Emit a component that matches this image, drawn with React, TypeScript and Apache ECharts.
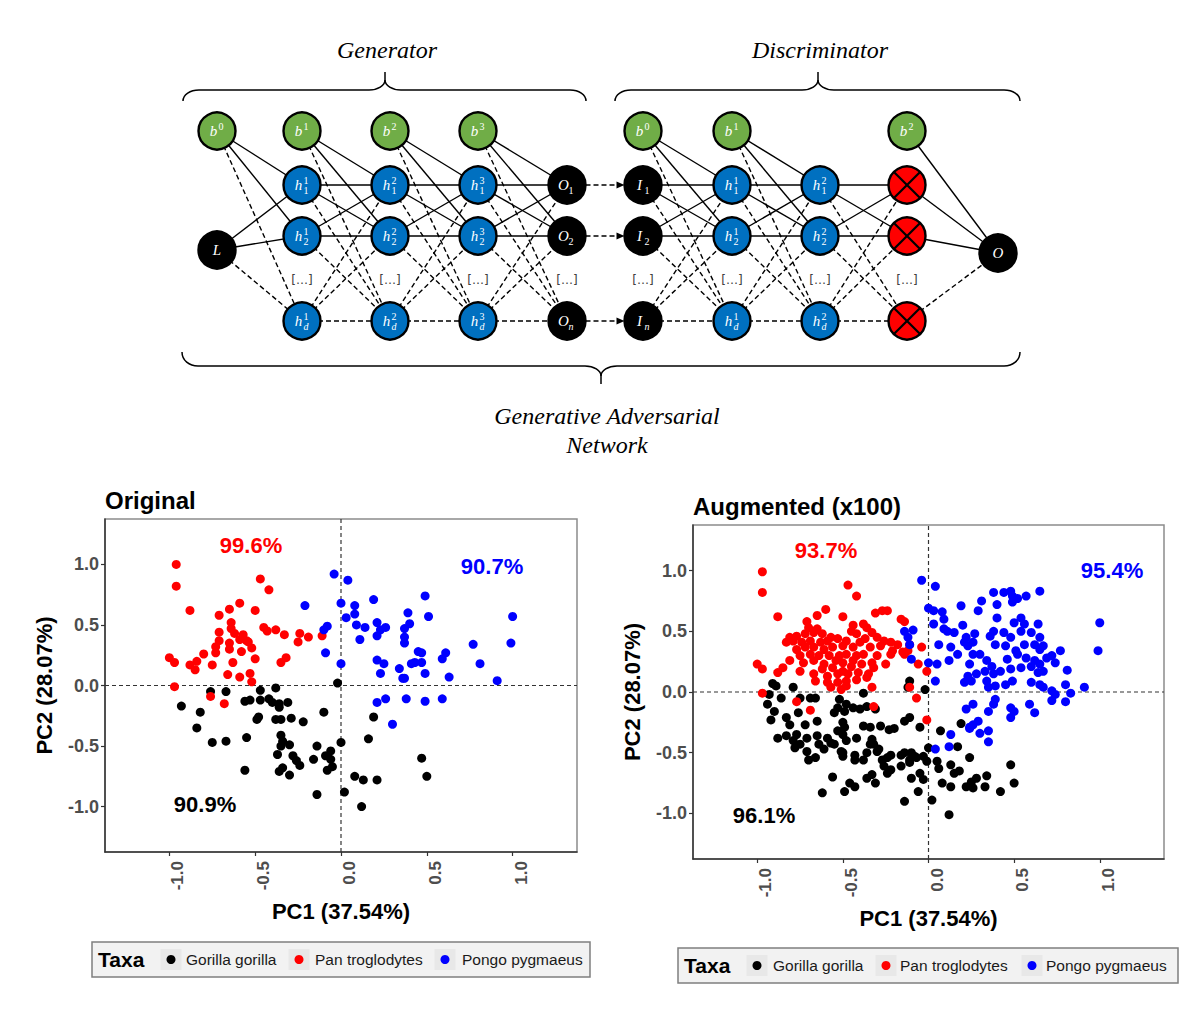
import React, { useEffect, useRef } from 'react';
import * as echarts from 'echarts';

const TAXA = ['Gorilla gorilla', 'Pan troglodytes', 'Pongo pygmaeus'];
const TAXA_COLORS = ['#000000', '#ff0000', '#0000ff'];
const AXIS_TICKS = [-1, -0.5, 0, 0.5, 1];
const AXIS_LIMIT = 1.375;
const X_TITLE = 'PC1 (37.54%)';
const Y_TITLE = 'PC2 (28.07%)';
const PANEL_TITLES = ['Original', 'Augmented (x100)'];
const ORIG_ACC = ['90.9%', '99.6%', '90.7%'];
const AUG_ACC = ['96.1%', '93.7%', '95.4%'];

const origGorilla = [
  [-0.02, 0.02], [-0.76, -0.05], [-0.67, -0.05], [-0.47, -0.04], [-0.38, -0.02], [-0.93, -0.17], [-0.82, -0.22],
  [-0.84, -0.35], [-0.56, -0.13], [-0.53, -0.12], [-0.47, -0.12], [-0.42, -0.11], [-0.40, -0.14], [-0.36, -0.15],
  [-0.31, -0.14], [-0.36, -0.18], [-0.49, -0.28], [-0.48, -0.26], [-0.38, -0.28], [-0.35, -0.28], [-0.29, -0.27],
  [-0.22, -0.30], [-0.10, -0.22], [0.19, -0.26], [-0.75, -0.47], [-0.67, -0.46], [-0.55, -0.43], [-0.35, -0.41],
  [-0.34, -0.46], [-0.35, -0.50], [-0.30, -0.49], [-0.14, -0.50], [0.00, -0.47], [0.16, -0.44], [-0.37, -0.57],
  [-0.28, -0.58], [-0.26, -0.62], [-0.24, -0.66], [-0.16, -0.61], [-0.09, -0.58], [-0.06, -0.54], [-0.06, -0.61],
  [-0.05, -0.67], [-0.08, -0.70], [-0.56, -0.70], [-0.36, -0.71], [-0.30, -0.74], [-0.34, -0.68], [0.08, -0.75],
  [0.13, -0.78], [0.21, -0.78], [0.47, -0.60], [0.50, -0.75], [-0.14, -0.90], [0.02, -0.88], [0.12, -1.00],
];
const origPan = [
  [-0.96, 1.00], [-0.96, 0.82], [-0.47, 0.88], [-0.42, 0.79], [-0.88, 0.62], [-0.59, 0.68], [-0.65, 0.63],
  [-0.71, 0.58], [-0.50, 0.62], [-0.64, 0.52], [-0.64, 0.47], [-0.71, 0.44], [-0.62, 0.43], [-0.57, 0.42],
  [-0.71, 0.37], [-0.59, 0.38], [-0.55, 0.37], [-0.65, 0.35], [-0.54, 0.36], [-0.73, 0.32], [-0.52, 0.31],
  [-0.65, 0.30], [-0.45, 0.48], [-0.43, 0.45], [-0.38, 0.46], [-0.33, 0.42], [-0.24, 0.43], [-0.19, 0.40],
  [-0.25, 0.36], [-0.11, 0.41], [-0.80, 0.26], [-0.73, 0.27], [-0.58, 0.28], [-1.00, 0.23], [-0.97, 0.19],
  [-0.84, 0.20], [-0.88, 0.17], [-0.85, 0.13], [-0.75, 0.17], [-0.63, 0.19], [-0.50, 0.22], [-0.35, 0.19],
  [-0.32, 0.23], [-0.66, 0.09], [-0.59, 0.07], [-0.53, 0.10], [-0.52, 0.03], [-0.97, -0.01], [-0.76, -0.09],
  [-0.68, -0.15],
];
const origPongo = [
  [-0.04, 0.92], [0.04, 0.87], [-0.21, 0.66], [0.00, 0.68], [0.08, 0.66], [0.19, 0.71], [0.49, 0.74], [0.08, 0.59],
  [0.03, 0.56], [0.39, 0.60], [0.51, 0.57], [1.00, 0.57], [-0.08, 0.49], [-0.10, 0.46], [0.09, 0.50], [0.14, 0.48],
  [0.21, 0.52], [0.26, 0.48], [0.23, 0.46], [0.21, 0.41], [0.37, 0.47], [0.40, 0.51], [0.11, 0.38], [0.37, 0.40],
  [0.37, 0.35], [-0.09, 0.27], [0.00, 0.18], [0.21, 0.21], [0.25, 0.18], [0.45, 0.28], [0.47, 0.27], [0.61, 0.27],
  [0.59, 0.22], [0.77, 0.34], [0.99, 0.35], [0.41, 0.18], [0.43, 0.19], [0.47, 0.19], [0.23, 0.10], [0.34, 0.14],
  [0.49, 0.10], [0.36, 0.06], [0.37, 0.06], [0.63, 0.07], [0.81, 0.18], [0.91, 0.04], [0.21, -0.14], [0.26, -0.11],
  [0.38, -0.11], [0.49, -0.13], [0.59, -0.11], [0.30, -0.32],
];

const augGorilla = [
  [-0.91, 0.07], [-0.89, 0.05], [-0.79, 0.04], [-0.93, -0.02], [-0.86, -0.05], [-0.94, -0.10], [-0.90, -0.16],
  [-0.92, -0.23], [-0.83, -0.21], [-0.81, -0.27], [-0.75, -0.05], [-0.69, -0.05], [-0.66, -0.05], [-0.76, -0.17],
  [-0.72, -0.27], [-0.38, -0.01], [-0.11, 0.09], [-0.12, 0.04], [-0.02, 0.02], [-0.52, -0.06], [-0.48, -0.10],
  [-0.53, -0.13], [-0.49, -0.16], [-0.44, -0.13], [-0.40, -0.14], [-0.36, -0.12], [-0.31, -0.14], [-0.55, -0.17],
  [-0.14, -0.24], [-0.11, -0.21], [-0.05, -0.29], [-0.20, -0.30], [-0.23, -0.31], [-0.28, -0.28], [-0.38, -0.28],
  [-0.34, -0.29], [0.19, -0.26], [-0.65, -0.24], [-0.50, -0.25], [-0.49, -0.29], [-0.88, -0.38], [-0.83, -0.36],
  [-0.77, -0.35], [-0.71, -0.38], [-0.65, -0.36], [-0.59, -0.38], [-0.53, -0.32], [-0.50, -0.35], [-0.48, -0.40],
  [-0.42, -0.38], [-0.33, -0.39], [-0.32, -0.43], [0.07, -0.32], [-0.57, -0.42], [-0.79, -0.40], [-0.75, -0.43],
  [-0.78, -0.46], [-0.71, -0.49], [-0.64, -0.43], [-0.61, -0.47], [-0.51, -0.49], [-0.50, -0.53], [-0.43, -0.52],
  [-0.36, -0.50], [-0.29, -0.47], [-0.22, -0.52], [-0.14, -0.50], [-0.10, -0.50], [-0.07, -0.54], [0.00, -0.46],
  [0.17, -0.45], [-0.70, -0.56], [-0.66, -0.54], [-0.55, -0.43], [-0.50, -0.50], [-0.43, -0.56], [-0.38, -0.56],
  [-0.34, -0.43], [-0.30, -0.49], [-0.27, -0.56], [-0.24, -0.54], [-0.26, -0.61], [-0.22, -0.64], [-0.24, -0.67],
  [-0.16, -0.52], [-0.11, -0.56], [-0.08, -0.53], [-0.03, -0.53], [-0.01, -0.57], [0.05, -0.57], [0.06, -0.63],
  [0.13, -0.60], [0.24, -0.54], [0.18, -0.65], [0.15, -0.67], [-0.16, -0.61], [-0.11, -0.58], [-0.05, -0.67],
  [-0.10, -0.71], [-0.03, -0.72], [-0.06, -0.82], [-0.14, -0.90], [0.02, -0.89], [0.12, -1.01], [-0.36, -0.71],
  [-0.33, -0.68], [-0.31, -0.75], [-0.46, -0.75], [-0.43, -0.78], [-0.49, -0.82], [-0.56, -0.70], [-0.62, -0.83],
  [0.08, -0.75], [0.13, -0.78], [0.22, -0.78], [0.26, -0.79], [0.28, -0.71], [0.34, -0.69], [0.33, -0.78],
  [0.42, -0.82], [0.48, -0.60], [0.50, -0.75], [0.25, -0.74],
];
const augPan = [
  [-0.97, 0.99], [-0.97, 0.82], [-0.47, 0.88], [-0.42, 0.79], [-0.88, 0.62], [-0.60, 0.68], [-0.65, 0.63],
  [-0.50, 0.62], [-0.71, 0.58], [-0.24, 0.67], [-0.27, 0.67], [-0.31, 0.65], [-0.16, 0.60], [-0.14, 0.58],
  [-1.00, 0.23], [-0.97, 0.19], [-0.88, 0.16], [-0.85, 0.20], [-0.75, 0.17], [-0.97, -0.01], [-0.77, -0.08],
  [-0.69, -0.15], [-0.32, -0.12], [-0.33, 0.04], [-0.11, 0.04], [-0.07, -0.05], [-0.06, 0.23], [-0.01, 0.17],
  [-0.01, -0.23], [-0.04, 0.37], [-0.11, 0.39], [-0.70, 0.53], [-0.65, 0.52], [-0.44, 0.55], [-0.38, 0.56],
  [-0.36, 0.53], [-0.81, 0.45], [-0.77, 0.46], [-0.72, 0.48], [-0.67, 0.49], [-0.62, 0.48], [-0.57, 0.45],
  [-0.45, 0.50], [-0.42, 0.48], [-0.33, 0.49], [-0.30, 0.45], [-0.83, 0.41], [-0.79, 0.42], [-0.74, 0.41],
  [-0.69, 0.42], [-0.63, 0.41], [-0.59, 0.42], [-0.53, 0.44], [-0.48, 0.42], [-0.40, 0.41], [-0.37, 0.44],
  [-0.26, 0.42], [-0.22, 0.41], [-0.18, 0.39], [-0.77, 0.35], [-0.72, 0.37], [-0.67, 0.37], [-0.61, 0.35],
  [-0.56, 0.37], [-0.50, 0.38], [-0.44, 0.37], [-0.34, 0.37], [-0.28, 0.38], [-0.21, 0.34], [-0.15, 0.33],
  [-0.12, 0.34], [-0.75, 0.30], [-0.69, 0.31], [-0.64, 0.30], [-0.58, 0.30], [-0.52, 0.30], [-0.48, 0.31],
  [-0.42, 0.30], [-0.38, 0.31], [-0.30, 0.30], [-0.22, 0.31], [-0.14, 0.31], [-0.81, 0.26], [-0.73, 0.24],
  [-0.67, 0.26], [-0.61, 0.23], [-0.54, 0.26], [-0.50, 0.24], [-0.44, 0.26], [-0.33, 0.24], [-0.25, 0.23],
  [-0.62, 0.19], [-0.56, 0.20], [-0.50, 0.17], [-0.45, 0.21], [-0.39, 0.23], [-0.32, 0.20], [-0.67, 0.15],
  [-0.59, 0.13], [-0.53, 0.15], [-0.47, 0.15], [-0.41, 0.16], [-0.35, 0.15], [-0.66, 0.09], [-0.59, 0.08],
  [-0.53, 0.08], [-0.48, 0.09], [-0.42, 0.10], [-0.36, 0.12], [-0.57, 0.04], [-0.51, 0.02], [-0.48, 0.05],
];
const augPongo = [
  [-0.04, 0.92], [0.04, 0.87], [0.65, 0.83], [1.00, 0.57], [0.99, 0.34], [0.91, 0.04], [0.35, -0.41], [0.12, -0.45],
  [0.04, -0.47], [0.13, -0.35], [0.24, -0.30], [0.29, -0.24], [0.35, -0.32], [0.19, 0.71], [0.29, 0.67], [0.31, 0.75],
  [0.38, 0.82], [0.44, 0.82], [0.48, 0.83], [0.49, 0.79], [0.52, 0.77], [0.57, 0.79], [0.40, 0.72], [0.49, 0.74],
  [0.00, 0.69], [0.03, 0.67], [0.08, 0.66], [0.09, 0.60], [0.03, 0.56], [0.40, 0.61], [0.54, 0.61], [0.50, 0.57],
  [0.56, 0.56], [0.64, 0.56], [0.09, 0.52], [0.15, 0.49], [0.20, 0.55], [0.27, 0.48], [0.22, 0.45], [0.11, 0.50],
  [-0.14, 0.50], [-0.09, 0.51], [-0.12, 0.45], [0.38, 0.50], [0.44, 0.49], [0.48, 0.45], [0.54, 0.50], [0.60, 0.49],
  [0.65, 0.45], [0.36, 0.46], [0.21, 0.41], [0.26, 0.41], [-0.11, 0.39], [0.06, 0.39], [0.13, 0.37], [0.23, 0.38],
  [0.30, 0.31], [0.26, 0.31], [0.39, 0.39], [0.45, 0.38], [0.56, 0.39], [0.62, 0.39], [0.67, 0.38], [0.77, 0.34],
  [0.72, 0.30], [0.65, 0.35], [0.51, 0.34], [-0.10, 0.27], [0.00, 0.24], [0.05, 0.23], [0.12, 0.26], [0.17, 0.31],
  [0.24, 0.23], [0.34, 0.26], [0.37, 0.21], [0.46, 0.27], [0.52, 0.31], [0.57, 0.28], [0.62, 0.26], [0.65, 0.23],
  [0.69, 0.28], [0.74, 0.24], [0.81, 0.18], [0.04, 0.09], [0.21, 0.08], [0.23, 0.13], [0.28, 0.15], [0.33, 0.17],
  [0.38, 0.15], [0.42, 0.17], [0.48, 0.19], [0.54, 0.20], [0.64, 0.16], [0.67, 0.17], [0.60, 0.21], [0.34, 0.09],
  [0.39, 0.05], [0.45, 0.06], [0.49, 0.09], [0.60, 0.08], [0.65, 0.06], [0.67, 0.04], [0.72, 0.01], [0.80, 0.06],
  [0.83, -0.01], [0.25, 0.09], [0.35, 0.04], [0.72, -0.07], [0.74, -0.02], [0.80, -0.08], [0.39, -0.06],
  [0.38, -0.10], [0.35, -0.16], [0.22, -0.14], [0.26, -0.10], [0.48, -0.13], [0.48, -0.21], [0.50, -0.16],
  [0.59, -0.10], [0.62, -0.17], [0.24, -0.29], [0.26, -0.27], [0.30, -0.34],
];

const PANELS = [
  { data: [origGorilla, origPan, origPongo], acc: ORIG_ACC },
  { data: [augGorilla, augPan, augPongo], acc: AUG_ACC },
];

// ---------- network diagram helpers ----------
const SERIF = '"Liberation Serif", "DejaVu Serif", serif';
const MATH = '"DejaVu Sans", "Liberation Sans", sans-serif';
const SANS = '"Liberation Sans", Arial, sans-serif';
const R = 18.5;
const ROW_B = 131, ROW_1 = 185, ROW_2 = 236, ROW_E = 280, ROW_D = 321;

type Node = { x: number; y: number; kind: 'b' | 'm' | 'd' };

function txt(x: number, y: number, text: string, o: any = {}) {
  const align = o.align || 'center';
  const va = o.verticalAlign || 'middle';
  return {
    type: 'text', x, y, z: o.z ?? 10, rotation: o.rotation || 0,
    style: {
      text, fill: o.fill || '#000', fontSize: o.fontSize || 14, fontFamily: o.fontFamily || SANS,
      fontWeight: o.fontWeight || 'normal', fontStyle: o.fontStyle || 'normal',
      align, textAlign: align, verticalAlign: va, textVerticalAlign: va,
    },
  };
}

function hiddenCol(x: number, bias: boolean): Node[] {
  const c: Node[] = [];
  if (bias) c.push({ x, y: ROW_B, kind: 'b' });
  c.push({ x, y: ROW_1, kind: 'm' }, { x, y: ROW_2, kind: 'm' }, { x, y: ROW_D, kind: 'd' });
  return c;
}

function edges(src: Node[], dst: Node[], out: any[]) {
  for (const s of src) {
    for (const t of dst) {
      if (t.kind === 'b') continue;
      const dashed = s.kind === 'd' || t.kind === 'd';
      const style: any = { stroke: '#000', lineWidth: 1.4 };
      if (dashed) style.lineDash = [5, 3];
      out.push({ type: 'line', z: 1, shape: { x1: s.x, y1: s.y, x2: t.x, y2: t.y }, style });
    }
  }
}

function node(cx: number, cy: number, fill: string, out: any[]) {
  out.push({ type: 'circle', z: 2, shape: { cx, cy, r: R }, style: { fill, stroke: '#000', lineWidth: 2.4 } });
}

function mathLabel(cx: number, cy: number, base: string, sup: string | null, sub: string | null, out: any[]) {
  const scripted = !!(sup || sub);
  out.push(txt(scripted ? cx - 3.5 : cx, cy, base, { fill: '#fff', fontSize: 15, fontFamily: SERIF, fontStyle: 'italic', z: 4 }));
  if (sup) out.push(txt(cx + 1.5, cy - 5, sup, { fill: '#fff', fontSize: 10, fontFamily: SERIF, align: 'left', z: 4 }));
  if (sub) out.push(txt(cx + 1.5, cy + 5, sub, { fill: '#fff', fontSize: 10, fontFamily: SERIF, fontStyle: /[a-z]/.test(sub) ? 'italic' : 'normal', align: 'left', z: 4 }));
}

function brace(x1: number, x2: number, cx: number, yEnd: number, yLine: number, yTip: number, out: any[]) {
  const r = 16;
  const yMid = yLine + (yTip - yLine) * 0.55;
  const st = { stroke: '#000', lineWidth: 1.5, fill: 'none' };
  const bz = (a: number[], b: number[], c1: number[], c2: number[]) =>
    out.push({ type: 'bezierCurve', z: 1, shape: { x1: a[0], y1: a[1], x2: b[0], y2: b[1], cpx1: c1[0], cpy1: c1[1], cpx2: c2[0], cpy2: c2[1] }, style: st });
  const ln = (a: number[], b: number[]) => out.push({ type: 'line', z: 1, shape: { x1: a[0], y1: a[1], x2: b[0], y2: b[1] }, style: st });
  for (const side of [-1, 1]) {
    const xe = side < 0 ? x1 : x2;
    const dir = side < 0 ? 1 : -1;
    bz([xe, yEnd], [xe + dir * r, yLine], [xe, yEnd + (yLine - yEnd) * 0.6], [xe + dir * r * 0.45, yLine]);
    ln([xe + dir * r, yLine], [cx - dir * r, yLine]);
    bz([cx - dir * r, yLine], [cx, yMid], [cx - dir * r * 0.45, yLine], [cx, yLine + (yMid - yLine) * 0.45]);
  }
  ln([cx, yMid], [cx, yTip]);
}

function buildDiagram(): any[] {
  const out: any[] = [];
  const GX = [217, 302, 390, 478, 567];
  const DX = [643, 732, 820, 907];
  const OX = 998, OY = 253;

  const g0: Node[] = [{ x: GX[0], y: ROW_B, kind: 'b' }, { x: GX[0], y: 250, kind: 'm' }];
  const g1 = hiddenCol(GX[1], true), g2 = hiddenCol(GX[2], true), g3 = hiddenCol(GX[3], true);
  const gO = hiddenCol(GX[4], false);
  edges(g0, g1, out); edges(g1, g2, out); edges(g2, g3, out); edges(g3, gO, out);
  const d0 = hiddenCol(DX[0], true), d1 = hiddenCol(DX[1], true), d2 = hiddenCol(DX[2], false);
  const dR: Node[] = [{ x: DX[3], y: ROW_B, kind: 'b' }, ...hiddenCol(DX[3], false)];
  const dO: Node[] = [{ x: OX, y: OY, kind: 'm' }];
  edges(d0, d1, out); edges(d1, d2, out); edges(d2, hiddenCol(DX[3], false), out); edges(dR, dO, out);

  for (const y of [ROW_1, ROW_2, ROW_D]) {
    out.push({ type: 'line', z: 1, shape: { x1: GX[4] + R, y1: y, x2: DX[0] - R - 4, y2: y }, style: { stroke: '#000', lineWidth: 1.4, lineDash: [5, 3] } });
    out.push({ type: 'polygon', z: 1, shape: { points: [[DX[0] - R, y], [DX[0] - R - 8, y - 3.5], [DX[0] - R - 8, y + 3.5]] }, style: { fill: '#000' } });
  }

  const GREEN = '#70ad47', BLUE = '#0070c0', BLACK = '#000000', RED = '#ff0000';
  node(GX[0], ROW_B, GREEN, out); mathLabel(GX[0], ROW_B, 'b', '0', null, out);
  node(GX[0], 250, BLACK, out); mathLabel(GX[0], 250, 'L', null, null, out);
  for (let k = 1; k <= 3; k++) {
    const x = GX[k];
    node(x, ROW_B, GREEN, out); mathLabel(x, ROW_B, 'b', String(k), null, out);
    node(x, ROW_1, BLUE, out); mathLabel(x, ROW_1, 'h', String(k), '1', out);
    node(x, ROW_2, BLUE, out); mathLabel(x, ROW_2, 'h', String(k), '2', out);
    node(x, ROW_D, BLUE, out); mathLabel(x, ROW_D, 'h', String(k), 'd', out);
  }
  node(GX[4], ROW_1, BLACK, out); mathLabel(GX[4], ROW_1, 'O', null, '1', out);
  node(GX[4], ROW_2, BLACK, out); mathLabel(GX[4], ROW_2, 'O', null, '2', out);
  node(GX[4], ROW_D, BLACK, out); mathLabel(GX[4], ROW_D, 'O', null, 'n', out);
  node(DX[0], ROW_B, GREEN, out); mathLabel(DX[0], ROW_B, 'b', '0', null, out);
  node(DX[0], ROW_1, BLACK, out); mathLabel(DX[0], ROW_1, 'I', null, '1', out);
  node(DX[0], ROW_2, BLACK, out); mathLabel(DX[0], ROW_2, 'I', null, '2', out);
  node(DX[0], ROW_D, BLACK, out); mathLabel(DX[0], ROW_D, 'I', null, 'n', out);
  node(DX[1], ROW_B, GREEN, out); mathLabel(DX[1], ROW_B, 'b', '1', null, out);
  for (let k = 1; k <= 2; k++) {
    const x = DX[k];
    node(x, ROW_1, BLUE, out); mathLabel(x, ROW_1, 'h', String(k), '1', out);
    node(x, ROW_2, BLUE, out); mathLabel(x, ROW_2, 'h', String(k), '2', out);
    node(x, ROW_D, BLUE, out); mathLabel(x, ROW_D, 'h', String(k), 'd', out);
  }
  node(DX[3], ROW_B, GREEN, out); mathLabel(DX[3], ROW_B, 'b', '2', null, out);
  for (const y of [ROW_1, ROW_2, ROW_D]) {
    node(DX[3], y, RED, out);
    const d = R * 0.7071;
    out.push({ type: 'line', z: 3, shape: { x1: DX[3] - d, y1: y - d, x2: DX[3] + d, y2: y + d }, style: { stroke: '#000', lineWidth: 2.2 } });
    out.push({ type: 'line', z: 3, shape: { x1: DX[3] - d, y1: y + d, x2: DX[3] + d, y2: y - d }, style: { stroke: '#000', lineWidth: 2.2 } });
  }
  node(OX, OY, BLACK, out); mathLabel(OX, OY, 'O', null, null, out);

  for (const x of [...GX.slice(1), ...DX]) out.push(txt(x, ROW_E, '[…]', { fill: '#404040', fontSize: 12, fontFamily: MATH }));

  brace(183, 586, 385, 101, 90, 72, out);
  brace(615, 1020, 818, 101, 90, 72, out);
  brace(182, 1020, 601, 352, 366, 384, out);
  const titleOpt = { fontSize: 24, fontFamily: SERIF, fontStyle: 'italic' };
  out.push(txt(387, 50, 'Generator', titleOpt));
  out.push(txt(820, 50, 'Discriminator', titleOpt));
  out.push(txt(607, 416, 'Generative Adversarial', titleOpt));
  out.push(txt(607, 445, 'Network', titleOpt));
  return out;
}

function buildLegend(x: number, y: number, w: number, keyX: number[], labelX: number[]): any[] {
  const out: any[] = [];
  const h = 35, cy = y + h / 2;
  out.push({ type: 'rect', z: 5, shape: { x, y, width: w, height: h }, style: { fill: '#f2f2f2', stroke: '#7f7f7f', lineWidth: 1.5 } });
  out.push(txt(x + 6, cy, 'Taxa', { align: 'left', fontSize: 21, fontWeight: 'bold', z: 6 }));
  TAXA.forEach((name, i) => {
    out.push({ type: 'rect', z: 6, shape: { x: keyX[i] - 10.5, y: cy - 10.5, width: 21, height: 21 }, style: { fill: '#e8e8e8' } });
    out.push({ type: 'circle', z: 7, shape: { cx: keyX[i], cy, r: 4.5 }, style: { fill: TAXA_COLORS[i] } });
    out.push(txt(labelX[i], cy, name, { align: 'left', fontSize: 15.5, fill: '#1a1a1a', z: 7 }));
  });
  return out;
}

function buildPanelText(): any[] {
  const out: any[] = [];
  out.push(txt(105, 500, PANEL_TITLES[0], { align: 'left', fontSize: 24, fontWeight: 'bold' }));
  out.push(txt(693, 506, PANEL_TITLES[1], { align: 'left', fontSize: 24, fontWeight: 'bold' }));
  const accOpt = (c: string) => ({ fontSize: 22, fontWeight: 'bold', fill: c });
  const origPos = [[205, 804], [251, 545], [492, 566]];
  const augPos = [[764, 815], [826, 550], [1112, 570]];
  for (let i = 0; i < 3; i++) {
    out.push(txt(origPos[i][0], origPos[i][1], PANELS[0].acc[i], accOpt(TAXA_COLORS[i])));
    out.push(txt(augPos[i][0], augPos[i][1], PANELS[1].acc[i], accOpt(TAXA_COLORS[i])));
  }
  return out;
}

export default function App() {
  const ref = useRef<HTMLDivElement>(null);
  useEffect(() => {
    document.body.style.margin = '0';
    if (!ref.current) return;
    const chart = echarts.init(ref.current, null, { renderer: 'svg' });
    const grids = [
      { left: 105, top: 519, width: 472, height: 333 },
      { left: 693, top: 525, width: 471, height: 334 },
    ];
    const fmt = (v: number) => v.toFixed(1);
    const tickLabel = { color: '#4d4d4d', fontWeight: 'bold', fontSize: 18, fontFamily: SANS };
    const xAxis = grids.map((_, i) => ({
      gridIndex: i, type: 'value', min: -AXIS_LIMIT, max: AXIS_LIMIT,
      splitLine: { show: false },
      axisLine: { show: true, onZero: false, lineStyle: { color: '#333', width: 1.5 } },
      axisTick: { show: true, length: 4, customValues: AXIS_TICKS, lineStyle: { color: '#333', width: 1.2 } },
      axisLabel: { ...tickLabel, fontSize: 17, customValues: AXIS_TICKS, formatter: fmt, rotate: 90, verticalAlign: 'top', margin: 9 },
      name: X_TITLE, nameLocation: 'middle', nameGap: 48,
      nameTextStyle: { fontSize: 22, fontWeight: 'bold', color: '#000', fontFamily: SANS },
    }));
    const yAxis = grids.map((_, i) => ({
      gridIndex: i, type: 'value', min: -AXIS_LIMIT, max: AXIS_LIMIT,
      splitLine: { show: false },
      axisLine: { show: true, onZero: false, lineStyle: { color: '#333', width: 1.5 } },
      axisTick: { show: true, length: 4, customValues: AXIS_TICKS, lineStyle: { color: '#333', width: 1.2 } },
      axisLabel: { ...tickLabel, customValues: AXIS_TICKS, formatter: fmt, margin: 6 },
      name: Y_TITLE, nameLocation: 'middle', nameGap: 50, nameRotate: 90,
      nameTextStyle: { fontSize: 22, fontWeight: 'bold', color: '#000', fontFamily: SANS },
    }));
    const series: any[] = [];
    PANELS.forEach((p, g) => {
      const refLine = { color: '#333', width: 1.2, type: [4, 3] };
      series.push({ type: 'line', xAxisIndex: g, yAxisIndex: g, data: [[0, -AXIS_LIMIT], [0, AXIS_LIMIT]], symbol: 'none', lineStyle: refLine, silent: true, z: 1 });
      series.push({ type: 'line', xAxisIndex: g, yAxisIndex: g, data: [[-AXIS_LIMIT, 0], [AXIS_LIMIT, 0]], symbol: 'none', lineStyle: refLine, silent: true, z: 1 });
      p.data.forEach((d, k) => {
        series.push({
          type: 'scatter', name: TAXA[k], xAxisIndex: g, yAxisIndex: g, data: d,
          symbolSize: 9, itemStyle: { color: TAXA_COLORS[k], opacity: 1 }, z: 2 + k,
        });
      });
    });
    const graphic = [
      ...buildDiagram(),
      ...buildPanelText(),
      ...buildLegend(92, 942, 498, [171, 299, 445], [186, 315, 462]),
      ...buildLegend(678, 948, 500, [757, 886, 1032], [773, 900, 1046]),
    ];
    chart.setOption({
      animation: false,
      backgroundColor: '#ffffff',
      textStyle: { fontFamily: SANS },
      grid: grids.map((g) => ({ ...g, show: true, borderColor: '#8c8c8c', borderWidth: 1.5, backgroundColor: '#fff' })),
      xAxis, yAxis, series,
      graphic: { elements: graphic },
    });
    return () => chart.dispose();
  }, []);
  return <div ref={ref} style={{ width: 1200, height: 1011 }} />;
}
